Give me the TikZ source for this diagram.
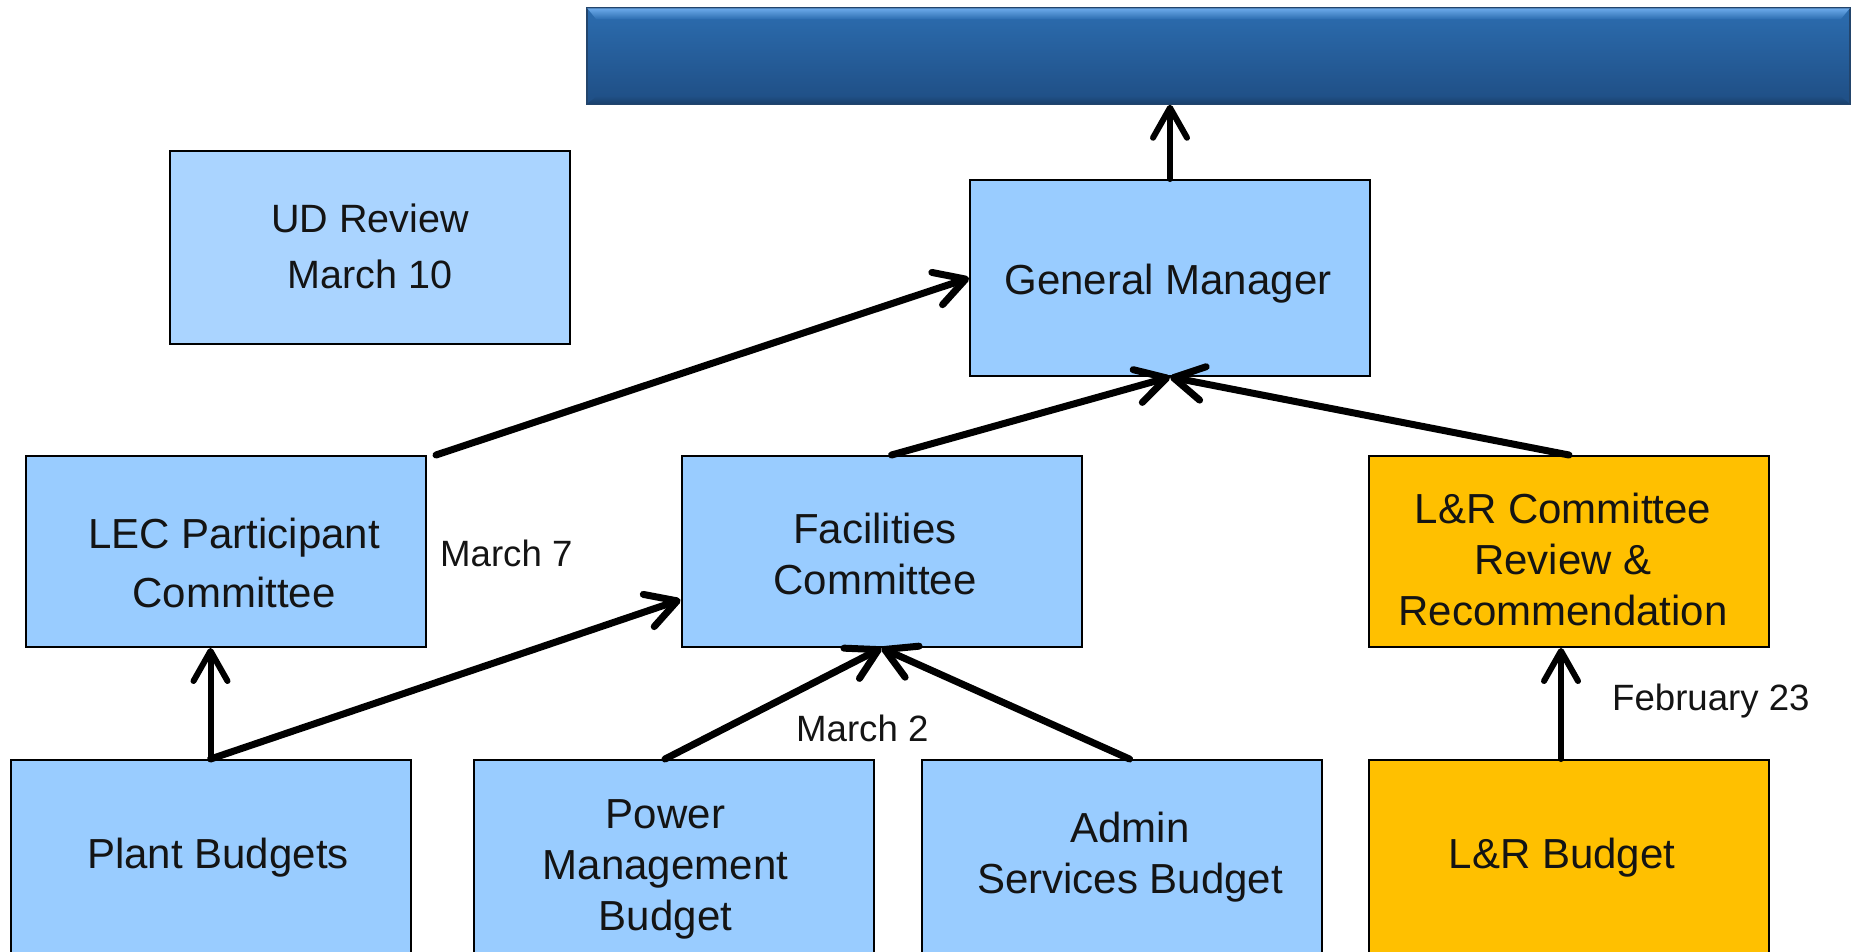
\documentclass[tikz,border=0pt]{standalone}
\usepackage{fontspec}
\setmainfont{Liberation Sans}
\usetikzlibrary{arrows.meta,calc}
\definecolor{boxblue}{HTML}{99CCFF}
\definecolor{udblue}{HTML}{AAD4FF}
\definecolor{lrorange}{HTML}{FFC000}
\definecolor{bantop}{HTML}{2C6DB0}
\definecolor{banbot}{HTML}{1F4E84}
\definecolor{banhi}{HTML}{6CAAEA}
\definecolor{banlow}{HTML}{1A416C}
\definecolor{banedge}{HTML}{23456C}
\definecolor{txtcol}{HTML}{141414}
\begin{document}
\begin{tikzpicture}[x=1pt,y=-1pt,
  box/.style={draw=black, line width=2pt, rectangle, minimum width=400pt, inner sep=0pt},
  bluebox/.style={box, fill=boxblue},
  udbox/.style={box, fill=udblue},
  orangebox/.style={box, fill=lrorange},
  boxtext/.style={font=\fontsize{42}{51}\selectfont, align=center, inner sep=0pt, text=txtcol},
  oneline/.style={text height=30pt, text depth=0pt},
  datelabel/.style={font=\fontsize{36.6}{44}\selectfont, inner sep=0pt, text=txtcol, text height=26.3pt, text depth=0pt},
  conn/.style={line width=7pt, line cap=round, -{Straight Barb[length=30pt,width=34pt,line cap=round,line join=round]}},
  vconn/.style={conn, line width=6pt}
]
\clip (0,0) rectangle (1852,951);
\fill[white] (0,0) rectangle (1852,951);

% banner
\node[minimum width=1263pt, minimum height=96pt, inner sep=0pt, draw=banedge, line width=1.5pt,
      top color=bantop, bottom color=banbot] (banner) at (1218.5,56) {};
\shade[top color=banhi, bottom color=bantop]
  ([shift={(1,1)}]banner.north west) -- ([shift={(-1,1)}]banner.north east)
  -- ([shift={(-10,12)}]banner.north east) -- ([shift={(10,12)}]banner.north west) -- cycle;
\shade[top color=banbot, bottom color=banlow]
  ([shift={(10,-8)}]banner.south west) -- ([shift={(-10,-8)}]banner.south east)
  -- ([shift={(-1,-1)}]banner.south east) -- ([shift={(1,-1)}]banner.south west) -- cycle;

% boxes
\node[udbox, minimum height=193pt] (ud) at (370,247.5) {};
\node[bluebox, minimum height=196pt] (gm) at (1170,278) {};
\node[bluebox, minimum height=191pt] (lec) at (226,551.5) {};
\node[bluebox, minimum height=191pt] (fac) at (881.5,551.5) {};
\node[orangebox, minimum height=191pt] (lrc) at (1569,551.5) {};
\node[bluebox, minimum height=300pt, anchor=north] (plant) at (210.5,759) {};
\node[bluebox, minimum height=300pt, anchor=north] (power) at (674,759) {};
\node[bluebox, minimum height=300pt, anchor=north] (admin) at (1121.5,759) {};
\node[orangebox, minimum height=300pt, anchor=north] (lrb) at (1569,759) {};

% box texts
\node[boxtext, font=\fontsize{39.5}{56.5}\selectfont] (udT) at (370,246.5) {UD Review\\March 10};
\node[boxtext, oneline] (gmT) at (1168,279) {General Manager};
\node[boxtext, font=\fontsize{42}{59}\selectfont] (lecT) at (234,562.5) {LEC Participant\\Committee};
\node[boxtext] (facT) at (875,553.5) {Facilities\\Committee};
\node[boxtext] (lrcT) at (1563,559) {L\&R Committee\\Review \&\\Recommendation};
\node[boxtext, oneline] (plantT) at (218,853) {Plant Budgets};
\node[boxtext] (powerT) at (665.5,869.5) {Power\\Management\\Budget};
\node[boxtext] (adminT) at (1130,857.5) {Admin\\Services Budget};
\node[boxtext, oneline] (lrbT) at (1562,853) {L\&R Budget};

% date labels
\node[datelabel, anchor=west] (m7) at (440,553) {March 7};
\node[datelabel, anchor=west] (m2) at (796,728) {March 2};
\node[datelabel, anchor=west] (f23) at (1612,697) {February 23};

% connectors
\draw[vconn] (gm.north) -- (gm.north |- banner.south);
\draw[conn] ([xshift=9pt]lec.north east) -- (gm.west);
\draw[conn] ([xshift=10pt]fac.north) -- (gm.south);
\draw[conn] (lrc.north) -- (gm.south);
\draw[vconn] (plant.north) -- (plant.north |- lec.south);
\draw[conn] (plant.north) -- ($(fac.west)!0.5!(fac.south west)$);
\draw[conn] ([xshift=-9pt]power.north) -- (fac.south);
\draw[conn] ([xshift=8pt]admin.north) -- (fac.south);
\draw[vconn] ([xshift=-8pt]lrb.north) -- ([xshift=-8pt]lrc.south);
\end{tikzpicture}
\end{document}
